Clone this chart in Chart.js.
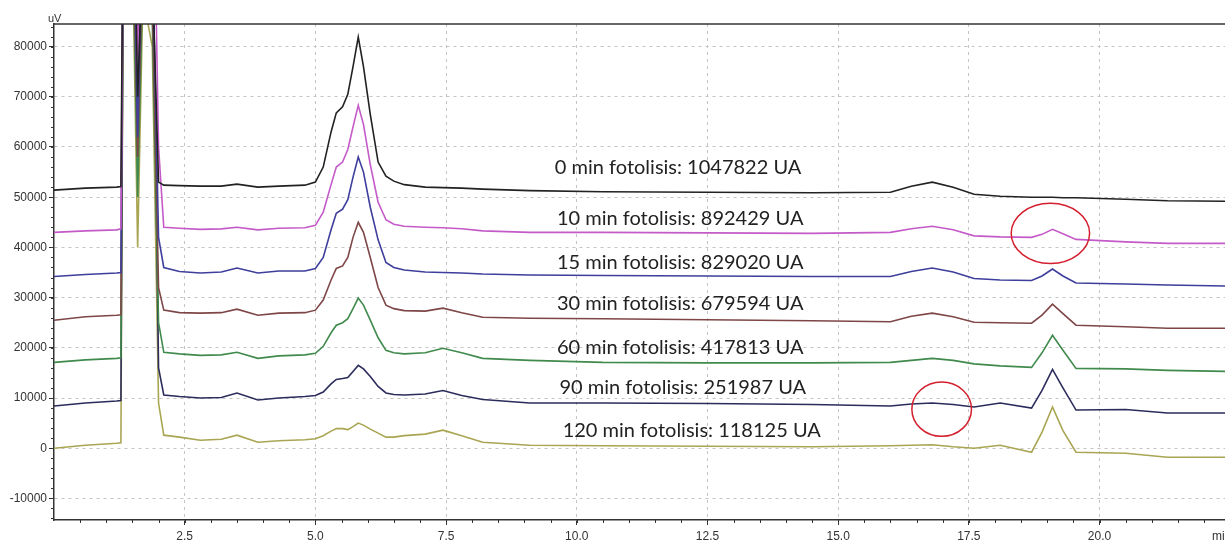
<!DOCTYPE html>
<html>
<head>
<meta charset="utf-8">
<script src="https://cdn.jsdelivr.net/npm/chart.js@4"></script>
<style>
  html, body { margin: 0; padding: 0; background: #fff; }
</style>
</head>
<body>
<canvas id="myChart" width="1225" height="548"></canvas>
<script>
// retention time (min)
const times = [0, 0.6, 1.2, 1.28, 1.34, 1.5, 1.6, 1.7, 1.88, 2.0,
  2.1, 2.4, 2.8, 3.2, 3.5, 3.9, 4.3,
  4.8, 5.0, 5.15, 5.3, 5.4, 5.52, 5.62, 5.72, 5.82, 5.92, 6.05, 6.2, 6.35, 6.5, 6.7,
  7.1, 7.44, 7.8, 8.2, 9.1,
  10.5, 12.5, 14.5, 16.0, 16.4, 16.8, 17.2, 17.6, 18.1, 18.7, 18.9, 19.1, 19.3, 19.55, 20.5, 21.3, 22.4];

// signal (uV) per photolysis time
const min0 = [51400, 51800, 52000, 52100, 130000, 130000, 70000, 100000, 95000, 53000,
  52400, 52300, 52200, 52200, 52600, 52000, 52200,
  52400, 53000, 56000, 63000, 66800, 68000, 70500, 76000, 81900, 76000, 66500, 57000, 54200, 53200, 52500,
  52000, 51900, 51800, 51600, 51300,
  51100, 51000, 50900, 51000, 52200, 53000, 52000, 50600, 50200, 50000, 50000, 50000, 49900, 49900, 49600, 49300, 49200];
const min10 = [43000, 43300, 43500, 43700, 130000, 130000, 78000, 130000, 130000, 60000,
  44000, 43800, 43600, 43700, 44000, 43500, 43800,
  43900, 44400, 47000, 52500, 56000, 57000, 59500, 64000, 68300, 64500, 56500, 49000, 45500, 44600, 44200,
  44000, 43900, 43700, 43300, 43000,
  43000, 42900, 42800, 43000, 43700, 44200, 43500, 42300, 42100, 42000, 42600, 43600, 42700, 41600, 41100, 40800, 40800];
const min15 = [34200, 34600, 34900, 35000, 130000, 120000, 62000, 110000, 100000, 42000,
  36000, 35200, 34900, 35100, 35900, 34900, 35300,
  35300, 35800, 38000, 43500, 46800, 47600, 49500, 54000, 58000, 55000, 48000, 41500, 37000, 36000, 35500,
  35100, 35000, 34900, 34700, 34500,
  34400, 34300, 34200, 34200, 35200, 35900, 35100, 33800, 33500, 33400, 34300, 35700, 34300, 32900, 32700, 32500, 32300];
const min30 = [25500, 26200, 26500, 26600, 130000, 110000, 58000, 100000, 90000, 32000,
  27500, 27000, 26900, 27000, 27700, 26500, 26900,
  27000, 27500, 29500, 33500, 35800, 36300, 38000, 42000, 45000, 43000, 38000, 32000, 28500, 27800, 27400,
  27300, 27900, 27000, 26100, 25900,
  25800, 25600, 25400, 25200, 26300, 26900, 26200, 25100, 25000, 24900, 26500, 28700, 26800, 24500, 24200, 23900, 23900];
const min60 = [17100, 17600, 17900, 18000, 130000, 105000, 50000, 95000, 85000, 25000,
  19100, 18800, 18500, 18600, 19100, 17900, 18400,
  18600, 18900, 20300, 23000, 24500, 25000, 25800, 27800, 29900, 28500, 25500, 22000, 19500, 19000, 18800,
  19000, 19900, 19000, 17900, 17500,
  17100, 17000, 17000, 17100, 17500, 17900, 17500, 16800, 16400, 16100, 19000, 22500, 19500, 15900, 15800, 15500, 15300];
const min90 = [8400, 9000, 9400, 9500, 130000, 125000, 64000, 120000, 110000, 16000,
  10600, 10300, 10000, 10100, 11000, 9600, 10000,
  10300, 10500, 11200, 12800, 13700, 13900, 14100, 15300, 16500, 15800, 14300, 12300, 11000, 10700, 10600,
  10800, 11500, 10500, 9700, 9000,
  9000, 8900, 8700, 8400, 8800, 9000, 8700, 8200, 9000, 8000, 11500, 15700, 12000, 7600, 7700, 7000, 7000];
const min120 = [0, 600, 1000, 1100, 130000, 100000, 40000, 90000, 80000, 9000,
  2600, 2200, 1600, 1800, 2600, 1200, 1500,
  1700, 1900, 2500, 3400, 3900, 3900, 3700, 4300, 5000, 4600, 3800, 3000, 2200, 2200, 2500,
  2800, 3600, 2500, 1200, 600,
  500, 400, 300, 500, 600, 700, 300, 0, 600, -800, 3200, 8200, 3500, -800, -1000, -1800, -1800];

const seriesNames = ["0 min", "10 min", "15 min", "30 min", "60 min", "90 min", "120 min"];
const areas = ["1047822", "892429", "829020", "679594", "417813", "251987", "118125"];

const xTicks = [2.5, 5.0, 7.5, 10.0, 12.5, 15.0, 17.5, 20.0];
const yTicks = [-10000, 0, 10000, 20000, 30000, 40000, 50000, 60000, 70000, 80000];

const colors = ["#222222", "#c45ac8", "#3e3e9c", "#7e4646", "#3f8a4c", "#2c2c5c", "#a9a552"];
const allSeries = [min0, min10, min15, min30, min60, min90, min120];

// where the area labels sit (data coords) and the red marks
const labelPos = [[9.58, 55980], [9.62, 45820], [9.62, 37050], [9.62, 28880], [9.62, 20120], [9.67, 12150], [9.73, 3590]];
const circles = [
  { x: 19.06, y: 42800, rx: 0.75, ry: 6000 },
  { x: 16.98, y: 7770, rx: 0.57, ry: 5400 }
];

const tickFont = { family: "Liberation Sans", size: 12 };

const decor = {
  id: "decor",
  afterDatasetsDraw(chart) {
    const { ctx, chartArea: a, scales: { x, y } } = chart;
    ctx.save();
    // frame top line
    ctx.strokeStyle = "#333";
    ctx.lineWidth = 1.5;
    ctx.beginPath();
    ctx.moveTo(a.left, a.top);
    ctx.lineTo(a.right, a.top);
    ctx.stroke();

    // minor ticks
    ctx.lineWidth = 1;
    ctx.beginPath();
    for (let v = 0.5; v < 22.4; v += 0.5) {
      const px = Math.round(x.getPixelForValue(v)) + 0.5;
      ctx.moveTo(px, a.bottom);
      ctx.lineTo(px, a.bottom + 3);
    }
    for (let v = -14000; v <= 84000; v += 2000) {
      const py = Math.round(y.getPixelForValue(v)) + 0.5;
      ctx.moveTo(a.left - 3, py);
      ctx.lineTo(a.left, py);
    }
    ctx.stroke();

    // unit labels
    ctx.fillStyle = "#333";
    ctx.font = "11px 'Liberation Sans'";
    ctx.textBaseline = "bottom";
    ctx.textAlign = "left";
    ctx.fillText("uV", a.left - 6, a.top);
    ctx.textBaseline = "middle";
    ctx.font = "12px 'Liberation Sans'";
    ctx.fillText("min", 1212, 537);

    // area labels
    ctx.fillStyle = "#222";
    ctx.font = "20px Lato";
    ctx.textBaseline = "middle";
    seriesNames.forEach((name, i) => {
      const [lx, ly] = labelPos[i];
      ctx.fillText(name + " fotolisis: " + areas[i] + " UA", x.getPixelForValue(lx), y.getPixelForValue(ly), 262);
    });

    // red marks
    ctx.strokeStyle = "#d4202e";
    ctx.lineWidth = 1.5;
    circles.forEach((c) => {
      const cx = x.getPixelForValue(c.x);
      const cy = y.getPixelForValue(c.y);
      const rx = x.getPixelForValue(c.x + c.rx) - cx;
      const ry = cy - y.getPixelForValue(c.y + c.ry);
      ctx.beginPath();
      ctx.ellipse(cx, cy, rx, ry, 0, 0, Math.PI * 2);
      ctx.stroke();
    });
    ctx.restore();
  }
};

new Chart(document.getElementById("myChart"), {
  type: "line",
  data: {
    datasets: allSeries.map((vals, i) => ({
      label: seriesNames[i],
      data: vals.map((v, j) => ({ x: times[j], y: v })),
      borderColor: colors[i],
      borderWidth: 1.6,
      pointRadius: 0,
      tension: 0,
      fill: false
    }))
  },
  options: {
    responsive: false,
    animation: false,
    devicePixelRatio: 1,
    layout: { padding: { top: 24, right: 0, left: 0, bottom: 0 } },
    plugins: { legend: { display: false }, tooltip: { enabled: false } },
    scales: {
      x: {
        type: "linear",
        min: 0,
        max: 22.4,
        afterBuildTicks: (s) => { s.ticks = xTicks.map((v) => ({ value: v })); },
        afterFit: (s) => { s.height = 28; },
        ticks: {
          callback: (v) => Number(v).toFixed(1),
          font: tickFont,
          color: "#333",
          padding: 4,
          maxRotation: 0,
          autoSkip: false
        },
        grid: { color: "#c4c4c4", lineWidth: 1, tickColor: "#333", tickLength: 5, tickBorderDash: [] },
        border: { display: true, color: "#333", width: 1.5, dash: [3, 4] }
      },
      y: {
        type: "linear",
        min: -14300,
        max: 84500,
        afterBuildTicks: (s) => { s.ticks = yTicks.map((v) => ({ value: v })); },
        afterFit: (s) => { s.width = 54; },
        ticks: {
          callback: (v) => String(v),
          font: tickFont,
          color: "#333",
          padding: 2,
          autoSkip: false
        },
        grid: { color: "#c4c4c4", lineWidth: 1, tickColor: "#333", tickLength: 5, tickBorderDash: [] },
        border: { display: true, color: "#333", width: 1.5, dash: [3, 4] }
      }
    }
  },
  plugins: [decor]
});
</script>
</body>
</html>
